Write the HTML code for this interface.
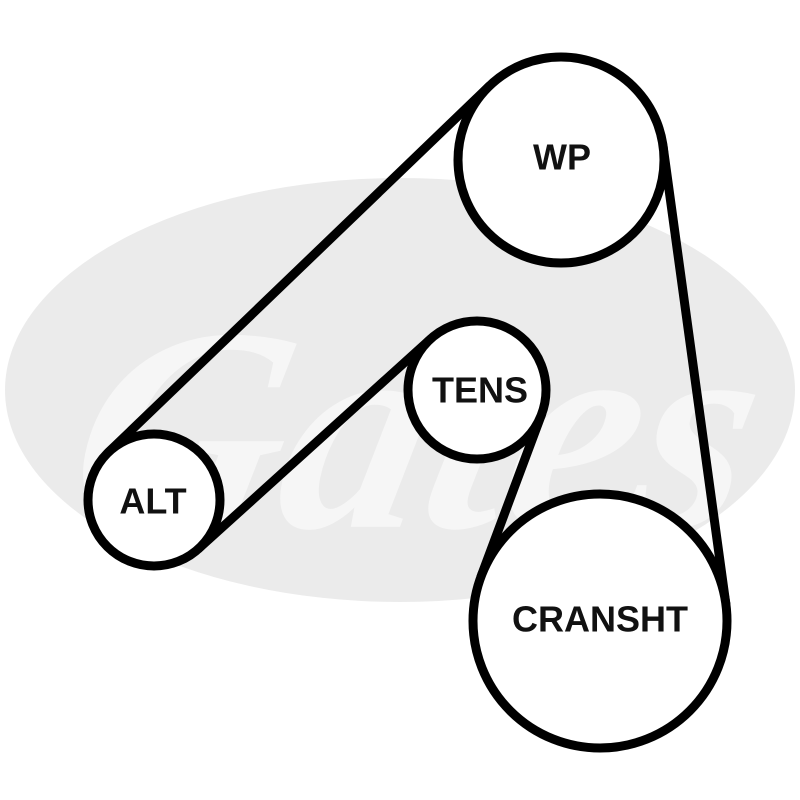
<!DOCTYPE html>
<html><head><meta charset="utf-8"><style>
html,body{margin:0;padding:0;background:#fff;}
svg{display:block}
text{font-family:"Liberation Sans",Arial,sans-serif;font-weight:bold;fill:#111;text-anchor:middle;dominant-baseline:central}
</style></head><body>
<svg id="s" width="800" height="800" viewBox="0 0 800 800" xmlns="http://www.w3.org/2000/svg">
<ellipse cx="400" cy="390" rx="395" ry="212" fill="#ebebeb"/>
<text x="430" y="430" style="font-size:290px;font-style:italic;fill:#f6f6f6;font-family:'Liberation Serif',serif" transform="skewX(-12) translate(80,0)">Gates</text>
<g id="belts" stroke="#000" stroke-width="9" stroke-linecap="round" fill="none"></g>
<g stroke="#000" stroke-width="9" fill="#fff">
<circle cx="561" cy="160" r="103"/>
<circle cx="477" cy="390" r="69"/>
<circle cx="154" cy="500" r="66"/>
<circle cx="600" cy="621" r="127"/>
</g>
<text x="562" y="157" style="font-size:36px">WP</text>
<text x="480" y="390" style="font-size:36px">TENS</text>
<text x="153" y="501" style="font-size:36px">ALT</text>
<text x="600" y="619" style="font-size:36px">CRANSHT</text>
</svg>
<script>
var C={WP:[561,160,103],TE:[477,390,69],AL:[154,500,66],CR:[600,621,127]};
function best(a,b,e1,e2){
 var bestv=null,bd=1e9;
 [1,-1].forEach(function(s1){[1,-1].forEach(function(s2){[1,-1].forEach(function(h){
  var dx=b[0]-a[0],dy=b[1]-a[1],L=Math.hypot(dx,dy),ux=dx/L,uy=dy/L;
  var k=(s2*b[2]-s1*a[2])/L; if(Math.abs(k)>1)return;
  var q=h*Math.sqrt(1-k*k);
  var nx=k*ux-q*uy, ny=k*uy+q*ux;
  var p1=[a[0]-s1*a[2]*nx,a[1]-s1*a[2]*ny],p2=[b[0]-s2*b[2]*nx,b[1]-s2*b[2]*ny];
  var d=Math.hypot(p1[0]-e1[0],p1[1]-e1[1])+Math.hypot(p2[0]-e2[0],p2[1]-e2[1]);
  if(d<bd){bd=d;bestv=[p1,p2];}
 });});});
 return bestv;
}
var g=document.getElementById('belts');
[[C.AL,C.WP,[110,450],[470,85]],[C.AL,C.TE,[215,535],[420,355]],[C.TE,C.CR,[540,430],[485,560]],[C.WP,C.CR,[665,185],[725,580]]].forEach(function(t){
 var r=best(t[0],t[1],t[2],t[3]);
 var l=document.createElementNS('http://www.w3.org/2000/svg','line');
 l.setAttribute('x1',r[0][0]);l.setAttribute('y1',r[0][1]);l.setAttribute('x2',r[1][0]);l.setAttribute('y2',r[1][1]);
 g.appendChild(l);
});
</script>
</body></html>
